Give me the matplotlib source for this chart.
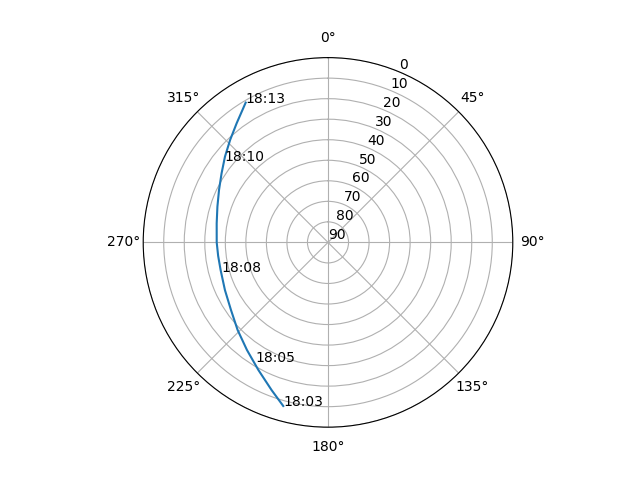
import matplotlib
matplotlib.use("Agg")
import matplotlib.pyplot as plt
import numpy as np

# satellite pass track (azimuth deg, elevation deg)
track_az = [195.3, 200.9, 208.6, 217.0, 225.9, 235.1, 245.2, 255.6, 263.0,
            270.0, 279.7, 287.9, 295.7, 303.0, 309.8, 316.3, 322.5, 329.5]
track_el = [7.4, 13.0, 19.2, 24.4, 28.7, 32.4, 34.7, 36.0, 36.1,
            35.8, 35.0, 33.4, 31.1, 28.2, 24.7, 21.0, 16.9, 11.0]

# time labels along the pass
label_times = ['18:03', '18:05', '18:08', '18:10', '18:13']
label_az = [195.3, 211.3, 254.6, 308.2, 329.5]
label_el = [7.4, 21.6, 36.3, 26.0, 11.0]

fig = plt.figure(figsize=(6.4, 4.8), dpi=100)
ax = fig.add_subplot(111, projection='polar')
ax.set_theta_zero_location('N')
ax.set_theta_direction(-1)

ax.plot(np.radians(track_az), track_el)
for t, a, e in zip(label_times, label_az, label_el):
    ax.text(np.radians(a), e, t)

ax.set_ylim(90, 0)
ax.set_yticks(range(0, 91, 10))

fig.savefig('out.png')
